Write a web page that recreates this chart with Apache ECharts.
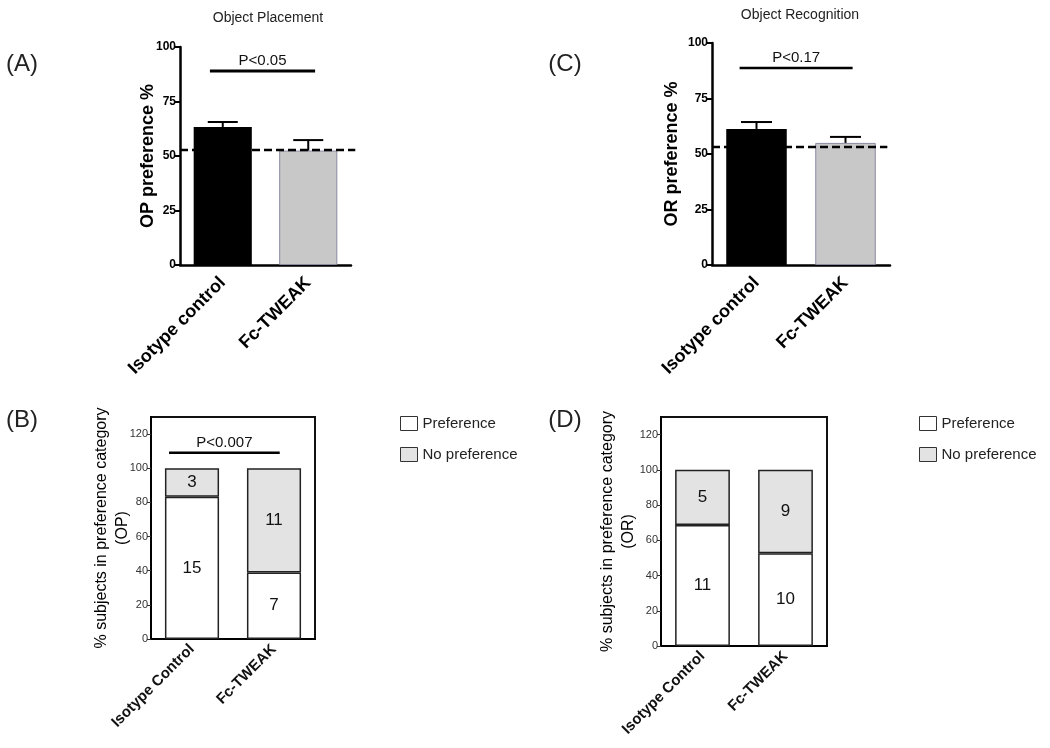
<!DOCTYPE html>
<html><head><meta charset="utf-8">
<script src="https://cdn.jsdelivr.net/npm/echarts@6/dist/echarts.min.js"></script>
<style>html,body{margin:0;padding:0;background:#fff}#c{width:1050px;height:748px}</style>
</head><body><div id="c"></div>
<script>
// ---- data ----
const topCategories = ['Isotype control', 'Fc-TWEAK'];
const bottomCategories = ['Isotype Control', 'Fc-TWEAK'];
const opMean = [63.3, 52.5];
const opErrTop = [65.6, 57.3];
const orMean = [61.3, 55.0];
const orErrTop = [64.4, 57.7];
const opChance = 52.75;
const orChance = 53.2;
const opSig = {text: 'P<0.05', level: 89};
const orSig = {text: 'P<0.17', level: 88.7};
const opCountSig = {text: 'P<0.007', level: 109};
const opPrefCounts = [15, 7];
const opNoPrefCounts = [3, 11];
const orPrefCounts = [11, 10];
const orNoPrefCounts = [5, 9];
const topYTicks = {min: 0, max: 100, interval: 25};
const bottomYTicks = {min: 0, max: 130, interval: 20};
const bottomYTickValues = [0, 20, 40, 60, 80, 100, 120];

const FONT = 'Liberation Sans, Arial, sans-serif';
const pct = (a, b) => a.map((v, i) => v / (v + b[i]) * 100);

function grids() {
  return [
    {left: 180, top: 47, width: 171, height: 218},
    {left: 712, top: 43, width: 178, height: 222},
    {left: 151, top: 417, width: 164, height: 222, show: true, borderColor: '#111', borderWidth: 2},
    {left: 661, top: 417, width: 166, height: 229, show: true, borderColor: '#111', borderWidth: 2}
  ];
}

function topX(i) {
  return {type: 'category', gridIndex: i, data: topCategories,
    axisLine: {lineStyle: {color: '#000', width: 2.5}},
    axisTick: {alignWithLabel: true, length: 6, lineStyle: {color: '#000', width: 2}},
    axisLabel: {rotate: 45, fontSize: 18, fontWeight: 'bold', color: '#000', fontFamily: FONT, margin: 15}};
}
function topY(i, name, gap) {
  return {type: 'value', gridIndex: i, min: topYTicks.min, max: topYTicks.max, interval: topYTicks.interval,
    name: name, nameLocation: 'middle', nameGap: gap, nameMoveOverlap: false,
    nameTextStyle: {fontSize: 18, fontWeight: 'bold', color: '#000', fontFamily: FONT},
    splitLine: {show: false},
    axisLine: {show: true, lineStyle: {color: '#000', width: 2.5}},
    axisTick: {show: true, length: 5, lineStyle: {color: '#000', width: 2}},
    axisLabel: {fontSize: 12, fontWeight: 'bold', color: '#000', fontFamily: FONT, margin: 4}};
}
function botX(i) {
  return {type: 'category', gridIndex: i, data: bottomCategories,
    axisLine: {lineStyle: {color: '#000', width: 2}},
    axisTick: {show: false},
    axisLabel: {rotate: 45, fontSize: 15, fontWeight: 'bold', color: '#111', fontFamily: FONT, margin: 8}};
}
function botY(i, name, gap) {
  return {type: 'value', gridIndex: i, min: bottomYTicks.min, max: bottomYTicks.max, interval: bottomYTicks.interval,
    name: name, nameLocation: 'middle', nameGap: gap, nameMoveOverlap: false,
    nameTextStyle: {fontSize: 16, color: '#000', fontFamily: FONT, lineHeight: 21},
    splitLine: {show: false},
    axisLine: {show: true, lineStyle: {color: '#000', width: 2}},
    axisTick: {show: true, length: 4, lineStyle: {color: '#333', width: 1}, customValues: bottomYTickValues},
    axisLabel: {fontSize: 11, color: '#333', fontFamily: FONT, margin: 3, customValues: bottomYTickValues}};
}

function meanBars(i, values) {
  return {type: 'bar', xAxisIndex: i, yAxisIndex: i, barWidth: '68%', z: 2,
    data: [
      {value: values[0], itemStyle: {color: '#000'}},
      {value: values[1], itemStyle: {color: '#c8c8c8', borderColor: '#8a8aa2', borderWidth: 1}}
    ]};
}
function errBars(i, mean, top, cap) {
  return {type: 'custom', xAxisIndex: i, yAxisIndex: i, z: 4,
    data: mean.map((m, k) => [k, m, top[k]]),
    renderItem: (params, api) => {
      const a = api.coord([api.value(0), api.value(1)]);
      const b = api.coord([api.value(0), api.value(2)]);
      return {type: 'group', children: [
        {type: 'line', shape: {x1: a[0], y1: a[1], x2: b[0], y2: b[1]}, style: {stroke: '#000', lineWidth: 2}},
        {type: 'line', shape: {x1: b[0] - cap / 2, y1: b[1], x2: b[0] + cap / 2, y2: b[1]}, style: {stroke: '#000', lineWidth: 2}}
      ]};
    }};
}
function chanceLine(i, level, rOff) {
  return {type: 'custom', xAxisIndex: i, yAxisIndex: i, z: 5,
    data: [[0, level]],
    renderItem: (params, api) => {
      const p0 = api.coord([0, api.value(1)]);
      const p1 = api.coord([1, api.value(1)]);
      const band = api.size([1, 0])[0];
      return {type: 'line', shape: {x1: p0[0] - band * 0.5, y1: p0[1], x2: p1[0] + band * rOff, y2: p1[1]},
        style: {stroke: '#000', lineWidth: 2.5, lineDash: [8, 4]}};
    }};
}
function sigBar(i, sig, lOff, rOff, lw) {
  return {type: 'custom', xAxisIndex: i, yAxisIndex: i, z: 5,
    data: [[0, sig.level]],
    renderItem: (params, api) => {
      const p0 = api.coord([0, api.value(1)]);
      const p1 = api.coord([1, api.value(1)]);
      const band = api.size([1, 0])[0];
      const x1 = p0[0] - band * lOff, x2 = p1[0] + band * rOff;
      return {type: 'group', children: [
        {type: 'line', shape: {x1: x1, y1: p0[1], x2: x2, y2: p0[1]}, style: {stroke: '#000', lineWidth: lw}},
        {type: 'text', x: (x1 + x2) / 2, y: p0[1] - 3,
          style: {text: sig.text, font: '15px ' + FONT, fill: '#111', textAlign: 'center', textVerticalAlign: 'bottom'}}
      ]};
    }};
}
function stacked(i, pref, noPref, stackName) {
  const pP = pct(pref, noPref), pN = pct(noPref, pref);
  const lbl = counts => ({show: true, position: 'inside', fontSize: 17, color: '#111', fontFamily: FONT,
    formatter: p => counts[p.dataIndex]});
  return [
    {type: 'bar', name: 'Preference', xAxisIndex: i, yAxisIndex: i, stack: stackName, barWidth: '66%',
      itemStyle: {color: '#fff', borderColor: '#222', borderWidth: 1.5}, label: lbl(pref), data: pP},
    {type: 'bar', name: 'No preference', xAxisIndex: i, yAxisIndex: i, stack: stackName, barWidth: '66%',
      itemStyle: {color: '#e3e3e3', borderColor: '#222', borderWidth: 1.5}, label: lbl(noPref), data: pN}
  ];
}
function legendAt(left) {
  return {orient: 'vertical', left: left, top: 411, itemWidth: 17, itemHeight: 14, itemGap: 16,
    selectedMode: false, icon: 'rect',
    textStyle: {fontSize: 15, color: '#222', fontFamily: FONT},
    data: [
      {name: 'Preference', itemStyle: {color: '#fff', borderColor: '#333', borderWidth: 1}},
      {name: 'No preference', itemStyle: {color: '#e3e3e3', borderColor: '#333', borderWidth: 1}}
    ]};
}
function txt(x, y, s, size) {
  return {type: 'text', x: x, y: y, style: {text: s, font: size + 'px ' + FONT, fill: '#222', textAlign: 'center', textVerticalAlign: 'middle'}};
}

const option = {
  animation: false,
  backgroundColor: '#fff',
  textStyle: {fontFamily: FONT},
  grid: grids(),
  xAxis: [topX(0), topX(1), botX(2), botX(3)],
  yAxis: [topY(0, 'OP preference %', 23), topY(1, 'OR preference %', 31),
          botY(2, '% subjects in preference category\n(OP)', 18), botY(3, '% subjects in preference category\n(OR)', 22)],
  legend: [legendAt(395), legendAt(914)],
  graphic: [
    txt(268, 18, 'Object Placement', 14),
    txt(800, 15, 'Object Recognition', 14),
    txt(22, 64, '(A)', 24),
    txt(22, 420, '(B)', 24),
    txt(565, 64, '(C)', 24),
    txt(565, 420, '(D)', 24)
  ],
  series: [
    meanBars(0, opMean), errBars(0, opMean, opErrTop, 30), chanceLine(0, opChance, 0.55), sigBar(0, opSig, 0.15, 0.08, 3),
    meanBars(1, orMean), errBars(1, orMean, orErrTop, 31), chanceLine(1, orChance, 0.47), sigBar(1, orSig, 0.19, 0.08, 2.5),
    ...stacked(2, opPrefCounts, opNoPrefCounts, 'op'), sigBar(2, opCountSig, 0.28, 0.07, 2.5),
    ...stacked(3, orPrefCounts, orNoPrefCounts, 'or')
  ]
};
const chart = echarts.init(document.getElementById('c'), null, {renderer: 'canvas'});
chart.setOption(option);
</script></body></html>
